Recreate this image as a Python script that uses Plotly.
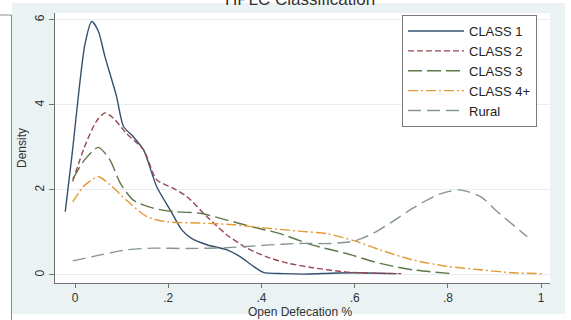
import plotly.graph_objects as go

# Kernel density estimates of open defecation share by classification
class1_x = [-0.021, -0.006, 0.021, 0.036, 0.05, 0.064, 0.089, 0.104, 0.125, 0.147, 0.175,
            0.204, 0.229, 0.25, 0.283, 0.326, 0.354, 0.383, 0.404, 0.447, 0.5, 0.55, 0.6,
            0.65, 0.69]
class1_y = [1.49, 2.87, 5.41, 5.96, 5.73, 5.14, 4.2, 3.49, 3.25, 2.94, 2.08,
            1.53, 1.06, 0.86, 0.71, 0.59, 0.43, 0.2, 0.06, 0.03, 0.02, 0.04, 0.05,
            0.04, 0.03]

class2_x = [-0.005, 0.02, 0.045, 0.064, 0.082, 0.11, 0.147, 0.175, 0.21, 0.24, 0.283,
            0.326, 0.369, 0.41, 0.455, 0.51, 0.58, 0.64, 0.70]
class2_y = [2.2, 3.0, 3.6, 3.81, 3.69, 3.33, 2.94, 2.24, 2.04, 1.84, 1.37,
            0.94, 0.63, 0.43, 0.28, 0.17, 0.07, 0.04, 0.03]

class3_x = [-0.005, 0.02, 0.05, 0.075, 0.097, 0.125, 0.168, 0.21, 0.268, 0.326, 0.38,
            0.44, 0.51, 0.58, 0.654, 0.725, 0.81]
class3_y = [2.25, 2.7, 3.0, 2.7, 2.16, 1.76, 1.57, 1.49, 1.45, 1.29, 1.13,
            0.97, 0.7, 0.51, 0.27, 0.12, 0.03]

class4_x = [-0.005, 0.02, 0.05, 0.075, 0.11, 0.154, 0.197, 0.268, 0.34, 0.41, 0.48,
            0.54, 0.6, 0.654, 0.725, 0.8, 0.87, 0.94, 1.005]
class4_y = [1.72, 2.1, 2.31, 2.12, 1.76, 1.37, 1.25, 1.22, 1.18, 1.1, 1.03,
            0.97, 0.8, 0.59, 0.35, 0.2, 0.12, 0.05, 0.03]

rural_x = [-0.005, 0.054, 0.11, 0.168, 0.24, 0.326, 0.41, 0.48, 0.55, 0.6, 0.64,
           0.676, 0.725, 0.777, 0.825, 0.87, 0.91, 0.97]
rural_y = [0.33, 0.47, 0.59, 0.63, 0.62, 0.64, 0.7, 0.74, 0.74, 0.8, 0.98,
           1.22, 1.57, 1.88, 2.0, 1.84, 1.45, 0.9]

x_ticks = [0, 0.2, 0.4, 0.6, 0.8, 1]
x_tick_labels = ["0", ".2", ".4", ".6", ".8", "1"]
y_ticks = [0, 2, 4, 6]

series = [
    ("CLASS 1", class1_x, class1_y, "#34506e", "solid"),
    ("CLASS 2", class2_x, class2_y, "#9a4852", "6px,3px"),
    ("CLASS 3", class3_x, class3_y, "#5d7848", "14px,5px"),
    ("CLASS 4+", class4_x, class4_y, "#e39a35", "10px,3px,2px,3px"),
    ("Rural", rural_x, rural_y, "#84958f", "13px,6px"),
]

FONT = "Liberation Sans, Arial, sans-serif"
W, H = 571, 320
L, R, T, B = 55, 21, 13, 37
PW, PH = W - L - R, H - T - B


def px_x(p):
    return (p - L) / PW


def px_y(p):
    return 1 - (p - T) / PH


fig = go.Figure()
for name, xs, ys, color, dash in series:
    fig.add_trace(go.Scatter(
        x=xs, y=ys, name=name, mode="lines",
        line=dict(color=color, width=1.4, dash=dash, shape="spline", smoothing=0.7),
    ))

shapes = [
    # outer graph region
    dict(type="rect", xref="paper", yref="paper", layer="below",
         x0=px_x(12), x1=px_x(565), y0=px_y(314), y1=px_y(3),
         fillcolor="#eaf2f3", line=dict(width=0)),
    # plot region
    dict(type="rect", xref="paper", yref="paper", layer="below",
         x0=0, x1=1, y0=0, y1=1, fillcolor="white", line=dict(width=0)),
    # border of neighbouring panel
    dict(type="line", xref="paper", yref="paper",
         x0=px_x(11.5), x1=px_x(11.5), y0=px_y(15), y1=px_y(322),
         line=dict(color="#8c8c8c", width=1)),
    dict(type="line", xref="paper", yref="paper",
         x0=px_x(-2), x1=px_x(11.5), y0=px_y(15), y1=px_y(15),
         line=dict(color="#8c8c8c", width=1)),
]

fig.update_layout(
    width=W, height=H,
    margin=dict(l=L, r=R, t=T, b=B),
    paper_bgcolor="white", plot_bgcolor="white",
    font=dict(family=FONT, size=12, color="#222222"),
    shapes=shapes,
    showlegend=True,
    legend=dict(
        x=px_x(402), y=px_y(15), xanchor="left", yanchor="top",
        bgcolor="white", bordercolor="#7a7a7a", borderwidth=1,
        font=dict(family=FONT, size=13, color="#222222"),
        itemwidth=56, tracegroupgap=0, entrywidth=136,
    ),
    annotations=[
        dict(text="HPLC Classification", xref="paper", yref="paper",
             x=px_x(300), y=px_y(-1), xanchor="center", yanchor="middle",
             showarrow=False, font=dict(family=FONT, size=17, color="#333333")),
        dict(text="Density", xref="paper", yref="paper",
             x=px_x(22), y=px_y(148), xanchor="center", yanchor="middle",
             textangle=-90, showarrow=False, font=dict(family=FONT, size=12, color="#333333")),
        dict(text="Open Defecation %", xref="paper", yref="paper",
             x=px_x(300), y=px_y(312), xanchor="center", yanchor="middle",
             showarrow=False, font=dict(family=FONT, size=12, color="#333333")),
    ],
)

fig.update_xaxes(
    range=[-0.043, 1.019], tickvals=x_ticks, ticktext=x_tick_labels,
    showgrid=False, zeroline=False, showline=True, linecolor="#6f6f6f", linewidth=1,
    ticks="outside", ticklen=4, tickcolor="#6f6f6f",
    tickfont=dict(family=FONT, size=12, color="#333333"),
)
fig.update_yaxes(
    range=[-0.19, 6.16], tickvals=y_ticks,
    showgrid=True, gridcolor="#e6eef0", gridwidth=1,
    zeroline=False, showline=True, linecolor="#6f6f6f", linewidth=1,
    ticks="outside", ticklen=5, tickcolor="#6f6f6f", tickangle=-90,
    tickfont=dict(family=FONT, size=12, color="#333333"),
)

fig.write_html("out.html")
